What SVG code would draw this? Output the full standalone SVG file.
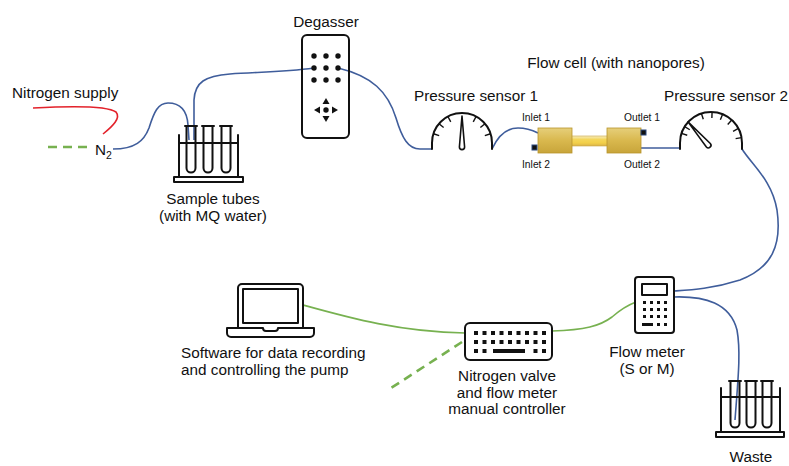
<svg xmlns="http://www.w3.org/2000/svg" xmlns:xlink="http://www.w3.org/1999/xlink" width="789" height="466" viewBox="0 0 789 466">
  <style>
    text { font-family: "Liberation Sans", Arial, sans-serif; fill: #111; }
    .lbl { font-size: 15.3px; }
    .sm { font-size: 10.3px; }
    .mid { text-anchor: middle; }
    .ink { fill: none; stroke: #111; stroke-width: 2; stroke-linejoin: round; stroke-linecap: round; }
    .ink-fill { fill: #fff; stroke: #111; stroke-width: 2; stroke-linejoin: round; }
    .dot { fill: #111; }
    .tube-blue { fill: none; stroke: #3f5d9b; stroke-width: 1.6; }
    .tube-green { fill: none; stroke: #77b150; stroke-width: 1.6; }
    .dash-green { fill: none; stroke: #77b150; stroke-width: 2.6; stroke-dasharray: 9 6; }
    .red { fill: none; stroke: #e3222b; stroke-width: 1.6; }
    .tick { stroke: #111; stroke-width: 1.4; }
    .gold { stroke: #b8952c; stroke-width: 0.8; }
    .port { fill: #111; stroke: #2c4a7e; stroke-width: 1; }
  </style>
  <defs>
    <linearGradient id="goldBlock" x1="0" y1="0" x2="0" y2="1">
      <stop offset="0" stop-color="#e6cf7a"/>
      <stop offset="0.5" stop-color="#d9b84e"/>
      <stop offset="1" stop-color="#c8a53a"/>
    </linearGradient>
    <linearGradient id="goldTube" x1="0" y1="0" x2="0" y2="1">
      <stop offset="0" stop-color="#f6ecc0"/>
      <stop offset="0.35" stop-color="#f4d65a"/>
      <stop offset="0.7" stop-color="#f2cf48"/>
      <stop offset="1" stop-color="#d9b34a"/>
    </linearGradient>
    <!-- gauge tick, drawn at 12 o'clock then rotated -->
    <line id="tick30" class="tick" x1="0" y1="-30" x2="0" y2="-24"/>
    <line id="tick31" class="tick" x1="0" y1="-31" x2="0" y2="-25"/>
    <!-- tapered gauge needle, pivot at origin -->
    <path id="needle" class="ink-fill" style="stroke-width:1.6" d="M0,-32 L2.6,-1 A2.6,2.6 0 0 1 -2.6,-1 Z"/>
    <!-- single test tube, top centre at origin -->
    <path id="testTube" class="ink" d="M-6,0 H6 M-4.5,0 V42 A4.5,4.5 0 0 0 4.5,42 V0"/>
  </defs>

  <!-- connectors -->
  <g id="connectors">
    <!-- nitrogen supply line -->
    <path class="red" d="M33,108 C70,106 108,106 116,112 C121,118 113,126 103,134"/>
    <path class="dash-green" d="M48,147 H88"/>
    <!-- N2 into sample tube -->
    <path class="tube-blue" d="M113,149 C135,149 144,141 149,128 C154,112 158,103 168,103 C180,103 187,110 188,125 L189,140"/>
    <!-- sample tube to degasser -->
    <path class="tube-blue" d="M194,140 L194,100 C195,82 205,76 230,74 C260,72 285,72 314,68"/>
    <!-- degasser to pressure sensor 1 -->
    <path class="tube-blue" d="M338,68 C372,76 388,92 396,118 C402,138 408,149 420,149 L432,149"/>
    <!-- pressure sensor 1 to inlet 1 -->
    <path class="tube-blue" d="M492,149 C498,136 506,128 518,128 C526,128 532,130 538,133"/>
    <!-- outlet 2 to pressure sensor 2 -->
    <path class="tube-blue" d="M640,148 H680"/>
    <!-- pressure sensor 2 to flow meter -->
    <path class="tube-blue" d="M742,149 C752,165 772,180 777,210 C782,245 772,268 740,280 C712,289 690,290 674,291"/>
    <!-- flow meter to waste -->
    <path class="tube-blue" d="M674,297 C705,296 730,303 737,330 C741,352 738,380 735,420"/>
    <!-- data lines -->
    <path class="tube-green" d="M303,305 C350,318 400,332 465,333"/>
    <path class="tube-green" d="M552,331 C585,330 600,326 612,317 C620,310 628,305 636,302"/>
    <path class="dash-green" d="M462,342 L388,390"/>
  </g>

  <!-- nitrogen supply -->
  <g id="nitrogen-supply">
    <text class="lbl" x="12" y="98">Nitrogen supply</text>
    <text class="lbl" x="95" y="155">N<tspan font-size="10.5" dy="4">2</tspan></text>
  </g>

  <!-- sample tubes -->
  <g id="sample-tubes">
    <path class="ink" d="M179,177 V135 M238,177 V135 M179,143 H238"/>
    <rect class="ink-fill" x="174" y="177" width="69" height="5"/>
    <use xlink:href="#testTube" x="191" y="126"/>
    <use xlink:href="#testTube" x="208" y="126"/>
    <use xlink:href="#testTube" x="226" y="126"/>
    <text class="lbl mid" x="213" y="204">Sample tubes</text>
    <text class="lbl mid" x="213" y="221">(with MQ water)</text>
  </g>

  <!-- degasser -->
  <g id="degasser">
    <text class="lbl mid" x="326" y="27">Degasser</text>
    <rect class="ink" x="302" y="35" width="47" height="103" rx="5"/>
    <g class="dot">
      <circle cx="314" cy="56" r="2.7"/><circle cx="326" cy="56" r="2.7"/><circle cx="338" cy="56" r="2.7"/>
      <circle cx="314" cy="68" r="2.7"/><circle cx="326" cy="68" r="2.7"/><circle cx="338" cy="68" r="2.7"/>
      <circle cx="314" cy="80" r="2.7"/><circle cx="326" cy="80" r="2.7"/><circle cx="338" cy="80" r="2.7"/>
      <circle cx="326" cy="110" r="2.7"/>
      <path d="M326,98 L329.5,104 H322.5 Z"/>
      <path d="M326,122 L329.5,116 H322.5 Z"/>
      <path d="M314,110 L320,106.5 V113.5 Z"/>
      <path d="M338,110 L332,106.5 V113.5 Z"/>
    </g>
  </g>

  <!-- pressure sensor 1 -->
  <g id="pressure-sensor-1">
    <text class="lbl" x="414" y="101">Pressure sensor 1</text>
    <path class="ink" d="M432,149 V143 A30,30 0 0 1 492,143 V149"/>
    <g transform="translate(462,143)">
      <use xlink:href="#tick30" transform="rotate(-72)"/>
      <use xlink:href="#tick30" transform="rotate(-50)"/>
      <use xlink:href="#tick30" transform="rotate(-28)"/>
      <use xlink:href="#tick30" transform="rotate(28)"/>
      <use xlink:href="#tick30" transform="rotate(50)"/>
      <use xlink:href="#tick30" transform="rotate(72)"/>
    </g>
    <use xlink:href="#needle" transform="translate(462,148)"/>
  </g>

  <!-- flow cell -->
  <g id="flow-cell">
    <text class="lbl mid" x="616" y="68">Flow cell (with nanopores)</text>
    <rect x="571" y="136" width="37" height="10" fill="url(#goldTube)" stroke="#c9a640" stroke-width="0.6"/>
    <rect class="gold" x="538" y="128" width="34" height="25" fill="url(#goldBlock)"/>
    <rect class="gold" x="607" y="128" width="34" height="25" fill="url(#goldBlock)"/>
    <rect class="port" x="532" y="145" width="5" height="5"/>
    <rect class="port" x="641" y="130" width="5" height="5"/>
    <text class="sm" x="522" y="121">Inlet 1</text>
    <text class="sm" x="522" y="168">Inlet 2</text>
    <text class="sm" x="624" y="121">Outlet 1</text>
    <text class="sm" x="624" y="168">Outlet 2</text>
  </g>

  <!-- pressure sensor 2 -->
  <g id="pressure-sensor-2">
    <text class="lbl" x="664" y="101">Pressure sensor 2</text>
    <path class="ink" d="M680,149 V143 A31,31 0 0 1 742,143 V149"/>
    <g transform="translate(711,143)">
      <use xlink:href="#tick31" transform="rotate(-72)"/>
      <use xlink:href="#tick31" transform="rotate(-58)"/>
      <use xlink:href="#tick31" transform="rotate(-18)"/>
      <use xlink:href="#tick31" transform="rotate(2)"/>
      <use xlink:href="#tick31" transform="rotate(22)"/>
      <use xlink:href="#tick31" transform="rotate(42)"/>
      <use xlink:href="#tick31" transform="rotate(62)"/>
      <use xlink:href="#tick31" transform="rotate(80)"/>
    </g>
    <use xlink:href="#needle" transform="translate(709,146) rotate(-41)"/>
  </g>

  <!-- flow meter -->
  <g id="flow-meter">
    <rect class="ink-fill" x="635" y="277" width="39" height="56" rx="3"/>
    <rect class="ink" x="642" y="284" width="25" height="11"/>
    <g class="dot">
      <rect x="643" y="301" width="3" height="3"/><rect x="650" y="301" width="3" height="3"/><rect x="657" y="301" width="3" height="3"/><rect x="664" y="301" width="3" height="3"/>
      <rect x="643" y="308" width="3" height="3"/><rect x="650" y="308" width="3" height="3"/><rect x="657" y="308" width="3" height="3"/><rect x="664" y="308" width="3" height="3"/>
      <rect x="643" y="315" width="3" height="3"/><rect x="650" y="315" width="3" height="3"/><rect x="657" y="315" width="3" height="3"/><rect x="664" y="315" width="3" height="3"/>
      <rect x="642" y="323" width="11" height="3"/><rect x="657" y="323" width="3" height="3"/><rect x="664" y="323" width="3" height="3"/>
    </g>
    <text class="lbl mid" x="647" y="357">Flow meter</text>
    <text class="lbl mid" x="647" y="374">(S or M)</text>
  </g>

  <!-- nitrogen valve / flow meter controller -->
  <g id="controller">
    <rect class="ink-fill" x="465" y="323" width="87" height="37" rx="5"/>
    <g class="dot">
      <rect x="474" y="331" width="4" height="4"/><rect x="482.5" y="331" width="4" height="4"/><rect x="491" y="331" width="4" height="4"/><rect x="499.5" y="331" width="4" height="4"/><rect x="508" y="331" width="4" height="4"/><rect x="516.5" y="331" width="4" height="4"/><rect x="525" y="331" width="4" height="4"/><rect x="533.5" y="331" width="4" height="4"/><rect x="542" y="331" width="4" height="4"/>
      <rect x="474" y="340" width="4" height="4"/><rect x="482.5" y="340" width="4" height="4"/><rect x="491" y="340" width="4" height="4"/><rect x="499.5" y="340" width="4" height="4"/><rect x="508" y="340" width="4" height="4"/><rect x="516.5" y="340" width="4" height="4"/><rect x="525" y="340" width="4" height="4"/><rect x="533.5" y="340" width="4" height="4"/><rect x="542" y="340" width="4" height="4"/>
      <rect x="474" y="349" width="4" height="4"/><rect x="482.5" y="349" width="4" height="4"/><rect x="493" y="349" width="32" height="4"/><rect x="533.5" y="349" width="4" height="4"/><rect x="542" y="349" width="4" height="4"/>
    </g>
    <text class="lbl mid" x="507" y="381">Nitrogen valve</text>
    <text class="lbl mid" x="507" y="398">and flow meter</text>
    <text class="lbl mid" x="507" y="414">manual controller</text>
  </g>

  <!-- laptop -->
  <g id="laptop">
    <path class="ink" d="M238,328 V288 A4,4 0 0 1 242,284 H299 A4,4 0 0 1 303,288 V328"/>
    <rect class="ink" x="243" y="289" width="55" height="34"/>
    <path class="ink" d="M227,328 H263 A3,3 0 0 0 266,331 H275 A3,3 0 0 0 278,328 H314 V333 A4,4 0 0 1 310,337 H231 A4,4 0 0 1 227,333 Z"/>
    <text class="lbl" x="181" y="358">Software for data recording</text>
    <text class="lbl" x="181" y="375">and controlling the pump</text>
  </g>

  <!-- waste -->
  <g id="waste">
    <path class="ink" d="M721,432 V388 M780,432 V388 M721,397 H780"/>
    <rect class="ink-fill" x="716" y="432" width="68" height="5"/>
    <use xlink:href="#testTube" x="735" y="381"/>
    <use xlink:href="#testTube" x="751" y="381"/>
    <use xlink:href="#testTube" x="767" y="381"/>
    <text class="lbl mid" x="751" y="462">Waste</text>
  </g>
</svg>
